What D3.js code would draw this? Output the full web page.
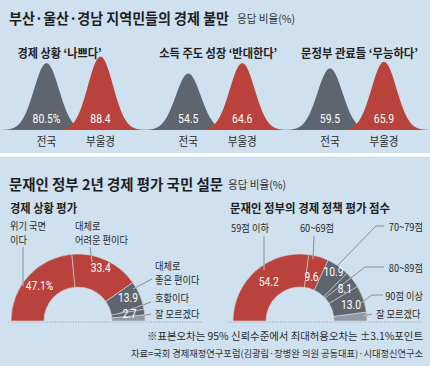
<!DOCTYPE html>
<html><head><meta charset="utf-8">
<script src="https://cdn.jsdelivr.net/npm/d3@7"></script>
<style>
html,body{margin:0;padding:0;background:#cfe0ee;}
svg{display:block;}
</style></head><body>
<script>
// ---------- DATA ----------
const topPanels = ['경제 상황 \u2018나쁘다\u2019', '소득 주도 성장 \u2018반대한다\u2019', '문정부 관료들 \u2018무능하다\u2019'];
const topSeries = ['전국', '부울경'];
const nationalValues = [80.5, 54.5, 59.5];
const bugyeongValues = [88.4, 64.6, 65.9];

const econCategories = ['위기 국면이다', '대체로 어려운 편이다', '대체로 좋은 편이다', '호황이다', '잘 모르겠다'];
const econValues = [47.1, 33.4, 13.9, 2.7, 2.9];
const econValueLabels = ['47.1%', '33.4', '13.9', '2.7', ''];

const policyCategories = ['59점 이하', '60~69점', '70~79점', '80~89점', '90점 이상', '잘 모르겠다'];
const policyValues = [54.2, 9.6, 10.9, 8.1, 13.0, 4.2];
const policyValueLabels = ['54.2', '9.6', '10.9', '8.1', '13.0', ''];

// ---------- STYLE / LAYOUT ----------
const W = 430, H = 366;
const C = { bg: '#cfe0ee', red: '#b9423c', gray: '#5e656e', light: '#8e9ba7', text: '#1e1e1e' };
const KR = "'Noto Sans CJK KR','Noto Sans',sans-serif";
const NUM = "Roboto,'Liberation Sans',sans-serif";

const svg = d3.select('body').append('svg').attr('width', W).attr('height', H);
svg.append('rect').attr('width', W).attr('height', H).attr('fill', C.bg);
svg.append('rect').attr('x', 0).attr('y', 153).attr('width', W).attr('height', 3.5).attr('fill', '#fff');

function txt(x, y, s, o = {}) {
  const t = svg.append('text').attr('x', x).attr('y', y).text(s)
    .attr('font-family', o.family || KR).attr('font-size', o.size || 12)
    .attr('font-weight', o.weight || 400).attr('fill', o.fill || C.text)
    .attr('text-anchor', o.anchor || 'start').attr('dominant-baseline', 'central');
  if (o.width) t.attr('textLength', o.width).attr('lengthAdjust', 'spacingAndGlyphs');
  else if (o.k) { const l = t.node().getComputedTextLength(); t.attr('textLength', l * o.k).attr('lengthAdjust', 'spacingAndGlyphs'); }
  return t;
}

// ---------- TITLES ----------
txt(9, 17, '부산·울산·경남 지역민들의 경제 불만', { size: 14.5, weight: 700, width: 220 });
txt(237, 18, '응답 비율(%)', { size: 11, fill: '#333', width: 58 });
txt(9, 183, '문재인 정부 2년 경제 평가 국민 설문', { size: 14.4, weight: 700, width: 214 });
txt(228, 184, '응답 비율(%)', { size: 11, fill: '#333', width: 58 });
txt(10, 207, '경제 상황 평가', { size: 12, weight: 700, width: 67 });
txt(230, 207, '문재인 정부의 경제 정책 평가 점수', { size: 12, weight: 700, width: 160 });

// ---------- TOP: BELL PEAKS ----------
const baseY = 130;
const panelX = d3.scalePoint().domain(topPanels).range([73.5, 357]);
const seriesX = d3.scalePoint().domain(topSeries).range([-27, 27]);
const panelPxPer100 = [83, 103.5, 103.5]; // each panel drawn on its own height scale
const sigma = 12.5;
const bellU = d3.range(-3.7, 3.701, 0.05);
const subW = [84, 118, 117];

topPanels.forEach((p, i) => {
  const y = d3.scaleLinear().domain([0, 100]).range([baseY, baseY - panelPxPer100[i]]);
  const vals = [nationalValues[i], bugyeongValues[i]];
  topSeries.forEach((s, j) => {
    const cx = panelX(p) + seriesX(s);
    const x = d3.scaleLinear().domain([-1, 1]).range([cx - sigma, cx + sigma]);
    const area = d3.area().x(u => x(u)).y0(baseY).y1(u => y(vals[j] * Math.exp(-u * u / 2)));
    svg.append('path').datum(bellU).attr('d', area).attr('fill', j ? C.red : C.gray);
  });
});
topPanels.forEach((p, i) => {
  const vals = [nationalValues[i], bugyeongValues[i]];
  txt(panelX(p) - 56, 52, p, { size: 12, weight: 700, fill: '#222', width: subW[i] });
  topSeries.forEach((s, j) => {
    const cx = panelX(p) + seriesX(s);
    const lab = d3.format('.1f')(vals[j]) + (i === 0 && j === 0 ? '%' : '');
    txt(cx, 118, lab, { family: NUM, size: 13, fill: '#fff', anchor: 'middle', k: 0.8 });
    txt(cx, 140, s, { size: 12, fill: '#2a2a2a', anchor: 'middle', k: 0.88 });
  });
});

// ---------- BOTTOM: HALF DONUTS ----------
const R = 67, r0 = 34, cy = 321;
const pie = d3.pie().sort(null).startAngle(-Math.PI / 2).endAngle(Math.PI / 2);
const arc = d3.arc().innerRadius(r0).outerRadius(R);
const labelArc = d3.arc().innerRadius(52).outerRadius(52);

// dotted baselines
[[8, 202], [228, 423]].forEach(([a, b]) => {
  svg.append('line').attr('x1', a).attr('x2', b).attr('y1', cy + 1).attr('y2', cy + 1)
    .attr('stroke', '#8593a0').attr('stroke-width', 0.8).attr('stroke-dasharray', '1,1.6');
});

function donut(id, cx, values, colors, valueLabels, nudges, layout) {
  const g = svg.append('g').attr('transform', `translate(${cx},${cy})`);
  const arcs = pie(values);
  g.selectAll('path').data(arcs).join('path').attr('d', arc)
    .attr('fill', (d, i) => colors[i]).attr('stroke', '#d6d6d6').attr('stroke-width', 0.6);
  const cp = svg.append('clipPath').attr('id', id);
  cp.selectAll('path').data(arcs).join('path').attr('d', arc).attr('transform', `translate(${cx},${cy})`);
  const line = d3.line();
  layout.forEach(L => {
    svg.append('path').attr('d', line(L.leader)).attr('fill', 'none').attr('stroke', '#6a6a6a').attr('stroke-width', 0.7);
    svg.append('path').attr('d', line(L.leader)).attr('fill', 'none').attr('stroke', '#e4e4e4').attr('stroke-width', 0.7)
      .attr('clip-path', `url(#${id})`);
    L.lines.forEach((s, k) => txt(L.x, L.y + k * 14, s, { size: 10.5, fill: '#2a2a2a', anchor: L.anchor || 'start', k: 0.88 }));
  });
  arcs.forEach((d, i) => {
    if (!valueLabels[i]) return;
    const [x, y] = labelArc.centroid(d);
    txt(cx + x + nudges[i][0], cy + y + nudges[i][1], valueLabels[i], { family: NUM, size: 12.5, fill: '#fff', anchor: 'middle', k: 0.82 });
  });
}

donut('clipL', 78, econValues, [C.red, C.red, C.gray, C.gray, C.light], econValueLabels,
  [[0, 0], [1, -6], [2, -4], [0, -1], [0, 0]], [
  { lines: ['위기 국면', '이다'], x: 10, y: 225, leader: [[23, 247], [23, 286]] },
  { lines: ['대체로', '어려운 편이다'], x: 75, y: 225, leader: [[90, 247], [92, 262]] },
  { lines: ['대체로', '좋은 편이다'], x: 155, y: 265, leader: [[152, 279], [133, 289]] },
  { lines: ['호황이다'], x: 155, y: 297, leader: [[151, 302], [118, 314]] },
  { lines: ['잘 모르겠다'], x: 155, y: 313, leader: [[151, 314], [141, 316]] }
]);

donut('clipR', 300, policyValues, [C.red, C.red, C.gray, C.gray, C.gray, C.light], policyValueLabels,
  [[3, 0], [-3, 5.5], [4, -6.5], [4, 0], [2, 1], [0, 0]], [
  { lines: ['59점 이하'], x: 250, y: 227, anchor: 'middle', leader: [[264, 236], [264, 270]] },
  { lines: ['60~69점'], x: 317, y: 227, anchor: 'middle', leader: [[314, 236], [313, 259]] },
  { lines: ['70~79점'], x: 423, y: 226, anchor: 'end', leader: [[384, 226], [376, 226], [337, 266]] },
  { lines: ['80~89점'], x: 423, y: 267, anchor: 'end', leader: [[384, 267], [365, 267], [325, 298]] },
  { lines: ['90점 이상'], x: 423, y: 295, anchor: 'end', leader: [[383, 295], [372, 295], [361, 303]] },
  { lines: ['잘 모르겠다'], x: 376, y: 313, leader: [[372, 314], [363, 316]] }
]);

// ---------- FOOTNOTES ----------
txt(423, 335, '※표본오차는 95% 신뢰수준에서 최대허용오차는 ±3.1%포인트', { size: 10.5, fill: '#2a2a2a', anchor: 'end', width: 276 });
txt(423, 353, '자료=국회 경제재정연구포럼(김광림·장병완 의원 공동대표)·시대정신연구소', { size: 9.5, fill: '#333', anchor: 'end', width: 292 });
</script>
</body></html>
